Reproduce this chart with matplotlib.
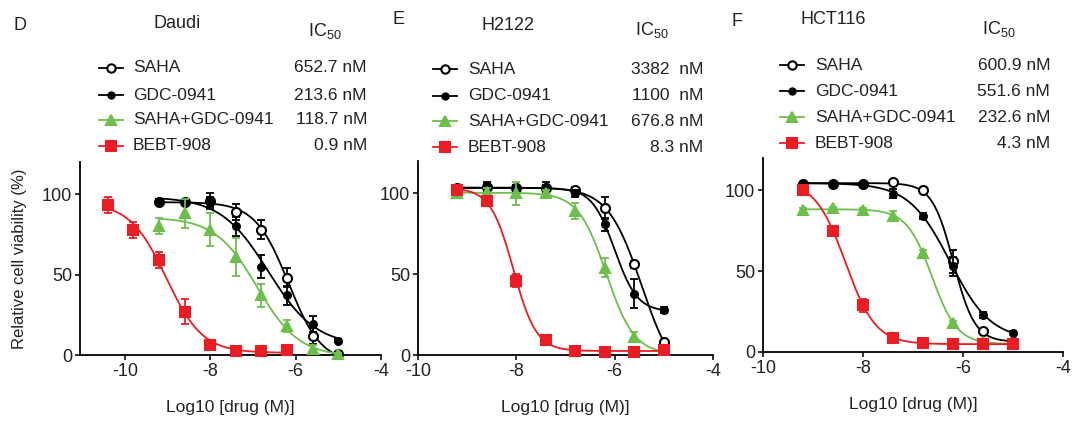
import numpy as np
import matplotlib
matplotlib.use("Agg")
import matplotlib.pyplot as plt

plt.rcParams['font.family'] = ['Liberation Sans', 'DejaVu Sans']
plt.rcParams['mathtext.fontset'] = 'custom'
plt.rcParams['mathtext.rm'] = 'Liberation Sans'
plt.rcParams['mathtext.it'] = 'Liberation Sans:italic'
plt.rcParams['axes.unicode_minus'] = False

# ---- data (log10 molar dose, % viability) ----
drugs = ["SAHA", "GDC-0941", "SAHA+GDC-0941", "BEBT-908"]
dose = [-9.2, -8.6, -8.0, -7.4, -6.8, -6.2, -5.6, -5.0]
dose_daudi_bebt = [-10.4, -9.8, -9.2, -8.6, -8.0, -7.4, -6.8, -6.2]

daudi_saha = [95, 95, 96, 89, 78, 48, 12, 0.5]
daudi_saha_err = [2, 2, 5, 5, 6, 6, 5, 1]
daudi_gdc = [95, 95, 95, 80, 55, 37, 19, 9]
daudi_gdc_err = [2, 2, 3, 6, 7, 6, 5, 1]
daudi_combo = [80, 88, 78, 61, 37, 18, 4, 0.5]
daudi_combo_err = [5, 9, 10, 12, 7, 4, 2, 1]
daudi_bebt = [93, 78, 59, 27, 6.5, 2.5, 2.5, 3]
daudi_bebt_err = [5, 5, 5, 8, 2, 1.5, 1.5, 2]

h2122_saha = [103, 104, 103, 103, 102, 91, 56, 8]
h2122_saha_err = [1, 2, 2, 2, 2, 7, 2, 1]
h2122_gdc = [103, 104, 103, 104, 100, 81, 38, 28]
h2122_gdc_err = [1, 3, 2, 3, 2, 4, 9, 2]
h2122_combo = [100, 101, 100, 100, 89, 54, 11, 3]
h2122_combo_err = [1, 2, 7, 2, 5, 6, 3, 1]
h2122_bebt = [102, 95, 46, 9.3, 2.5, 2, 2, 3]
h2122_bebt_err = [2, 2, 4, 1, 1, 1, 1, 1]

hct116_saha = [104, 104, 104, 105, 100, 56, 13, 6]
hct116_saha_err = [1, 1, 1, 1, 1, 7, 1, 1]
hct116_gdc = [104, 104, 104, 98, 84, 53, 23, 12]
hct116_gdc_err = [1, 1, 1, 3, 2, 6, 2, 1]
hct116_combo = [88, 89, 88, 84, 61, 18, 6, 5.5]
hct116_combo_err = [1, 1, 1, 3, 2, 1, 1, 1]
hct116_bebt = [100, 75, 29, 8.5, 5.5, 5, 5, 5]
hct116_bebt_err = [2, 2, 4, 1.5, 1, 1, 1, 1]

daudi_ic50 = ["652.7 nM", "213.6 nM", "118.7 nM", "0.9 nM"]
h2122_ic50 = ["3382  nM", "1100  nM", "676.8 nM", "8.3 nM"]
hct116_ic50 = ["600.9 nM", "551.6 nM", "232.6 nM", "4.3 nM"]

RED = '#ec1c24'
GREEN = '#6cbf4a'
colors = ['black', 'black', GREEN, RED]
markers = ['o', 'o', '^', 's']
msizes = [6.5, 5, 7, 7]
faces = ['white', 'black', GREEN, RED]


def fit4pl(x, y):
    # grid search on logIC50 / hill, top and bottom solved by least squares
    x = np.asarray(x, float)
    y = np.asarray(y, float)
    cs = np.arange(x.min() - 0.5, x.max() + 0.5, 0.01)
    hs = np.arange(0.4, 4.0, 0.02)
    C, H = np.meshgrid(cs, hs, indexing='ij')
    f = 1.0 / (1.0 + 10 ** ((x[None, None, :] - C[..., None]) * H[..., None]))
    g = 1 - f
    s11 = (g * g).sum(-1); s12 = (g * f).sum(-1); s22 = (f * f).sum(-1)
    r1 = (g * y).sum(-1); r2 = (f * y).sum(-1)
    det = s11 * s22 - s12 ** 2 + 1e-12
    b = (r1 * s22 - r2 * s12) / det
    t = (s11 * r2 - s12 * r1) / det
    sse = ((y - b[..., None] * g - t[..., None] * f) ** 2).sum(-1)
    sse[(det < 1e-6) | (t < b)] = np.inf
    i, j = np.unravel_index(np.argmin(sse), sse.shape)
    return b[i, j], t[i, j], C[i, j], H[i, j]


def draw_panel(ax, xs, ys, errs, xlim):
    for k in range(4):
        x, y, e = xs[k], ys[k], errs[k]
        b, t, c, h = fit4pl(x, y)
        xx = np.linspace(min(x), max(x), 300)
        yy = b + (t - b) / (1 + 10 ** ((xx - c) * h))
        ax.plot(xx, yy, color=colors[k], lw=1.3, zorder=2 + k, clip_on=False)
        ax.errorbar(x, y, yerr=e, fmt='none', ecolor=colors[k], elinewidth=1.3,
                    capsize=3.2, capthick=1.3, zorder=2 + k, clip_on=False)
        ax.plot(x, y, ls='none', marker=markers[k], ms=msizes[k], mfc=faces[k],
                mec=colors[k], mew=1.5, zorder=2.5 + k, clip_on=False)
    ax.set_xlim(*xlim)
    ax.set_ylim(0, 120)
    ax.set_xticks([-10, -8, -6, -4])
    ax.set_yticks([0, 50, 100])
    for s in ['top', 'right']:
        ax.spines[s].set_visible(False)
    for s in ['left', 'bottom']:
        ax.spines[s].set_linewidth(1.3)
    ax.tick_params(direction='out', length=3.5, width=1.3, labelsize=13,
                   pad=2, colors='#222222')
    ax.set_xlabel("Log10 [drug (M)]", fontsize=12.5, labelpad=15, color='#222222')


W, H = 1080, 421
fig = plt.figure(figsize=(W / 100, H / 100), dpi=100)


def rect(l, r, t, b):
    return [l / W, 1 - b / H, (r - l) / W, (b - t) / H]


axD = fig.add_axes(rect(80, 381, 162, 355))
axE = fig.add_axes(rect(418, 713, 161, 355))
axF = fig.add_axes(rect(763, 1063, 158, 352))

draw_panel(axD, [dose, dose, dose, dose_daudi_bebt],
           [daudi_saha, daudi_gdc, daudi_combo, daudi_bebt],
           [daudi_saha_err, daudi_gdc_err, daudi_combo_err, daudi_bebt_err],
           (-11.05, -4))
draw_panel(axE, [dose] * 4,
           [h2122_saha, h2122_gdc, h2122_combo, h2122_bebt],
           [h2122_saha_err, h2122_gdc_err, h2122_combo_err, h2122_bebt_err],
           (-10, -4))
draw_panel(axF, [dose] * 4,
           [hct116_saha, hct116_gdc, hct116_combo, hct116_bebt],
           [hct116_saha_err, hct116_gdc_err, hct116_combo_err, hct116_bebt_err],
           (-10, -4))
axD.set_ylabel("Relative cell viability (%)", fontsize=12, labelpad=11,
               color='#222222')

# overlay in pixel coordinates for headers and legends
ov = fig.add_axes([0, 0, 1, 1])
ov.set_xlim(0, W)
ov.set_ylim(H, 0)
ov.axis('off')

headers = [("D", 20, 25, "Daudi", 177, 24, 325, 31, 111, 133, 367, [68, 95, 120, 146], daudi_ic50),
           ("E", 399, 20, "H2122", 508, 26, 652, 30, 445, 468, 703, [69, 96, 121, 147], h2122_ic50),
           ("F", 737, 21, "HCT116", 833, 20, 999, 29, 792, 815, 1050, [65, 91, 117, 143], hct116_ic50)]

for (lt, lx, ly, cell, cx, cy, ix, iy, hx, tx, vx, rows, vals) in headers:
    ov.text(lx, ly, lt, fontsize=13, ha='center', va='center', color='#222222')
    ov.text(cx, cy, cell, fontsize=13, ha='center', va='center', color='#222222')
    ov.text(ix, iy, r"IC$_{50}$", fontsize=13, ha='center', va='center', color='#222222')
    for k, ry in enumerate(rows):
        ov.plot([hx - 12, hx + 12], [ry, ry], color=colors[k], lw=1.3)
        ov.plot([hx], [ry], marker=markers[k], ms=msizes[k] - 0.5, mfc=faces[k],
                mec=colors[k], mew=1.5)
        ov.text(tx, ry, drugs[k], fontsize=12.5, ha='left', va='center', color='#222222')
        ov.text(vx, ry, vals[k], fontsize=12.5, ha='right', va='center', color='#222222')

fig.savefig("out.png", dpi=100)
